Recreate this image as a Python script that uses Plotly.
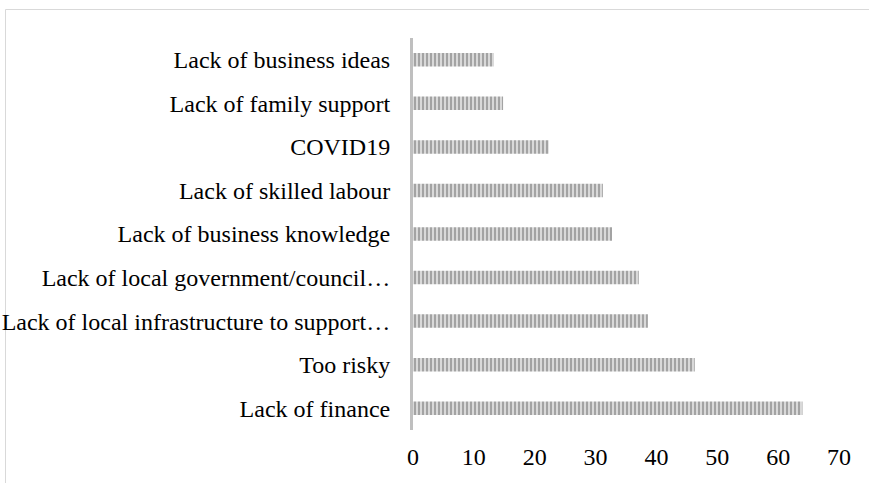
import plotly.graph_objects as go

categories = [
    "Lack of finance",
    "Too risky",
    "Lack of local infrastructure to support…",
    "Lack of local government/council…",
    "Lack of business knowledge",
    "Lack of skilled labour",
    "COVID19",
    "Lack of family support",
    "Lack of business ideas",
]
values = [64.0, 46.3, 38.6, 37.1, 32.7, 31.2, 22.3, 14.8, 13.3]
x_ticks = [0, 10, 20, 30, 40, 50, 60, 70]

W, H = 869, 483
L, R, T, B = 413, 30, 38, 53

fig = go.Figure(
    go.Bar(
        y=categories,
        x=values,
        orientation="h",
        marker=dict(
            color="#d6d6d6",
            line=dict(width=0),
            pattern=dict(shape="|", size=4, solidity=0.5,
                         fgcolor="#a3a3a3", bgcolor="#d9d9d9", fillmode="replace"),
        ),
        hoverinfo="x+y",
    )
)

pw = W - L - R
ph = H - T - B
fig.add_shape(
    type="rect", xref="paper", yref="paper",
    x0=(5.5 - L) / pw, x1=(W + 10 - L) / pw,
    y0=-(B + 10) / ph, y1=1 + (T - 9.5) / ph,
    line=dict(color="#d9d9d9", width=1), fillcolor="rgba(0,0,0,0)", layer="below",
)

fig.update_layout(
    width=W, height=H,
    margin=dict(l=L, r=R, t=T, b=B, autoexpand=False),
    paper_bgcolor="white", plot_bgcolor="white",
    font=dict(family="Liberation Serif, Times New Roman, serif", size=24, color="#000000"),
    bargap=0.69,
    showlegend=False,
    xaxis=dict(
        range=[0, 70], tickvals=x_ticks, ticktext=[str(v) for v in x_ticks],
        showgrid=False, zeroline=False, showline=False, automargin=False,
        ticks="outside", ticklen=5, tickcolor="rgba(0,0,0,0)",
        tickfont=dict(size=24),
    ),
    yaxis=dict(
        categoryorder="array", categoryarray=categories,
        showgrid=False, zeroline=False, automargin=False,
        showline=True, linecolor="#bfbfbf", linewidth=3,
        ticks="outside", ticklen=15, tickcolor="rgba(0,0,0,0)",
        tickfont=dict(size=24),
    ),
)

fig.write_html("out.html", config={"displayModeBar": False},
               post_script="document.body.style.margin='0';")
